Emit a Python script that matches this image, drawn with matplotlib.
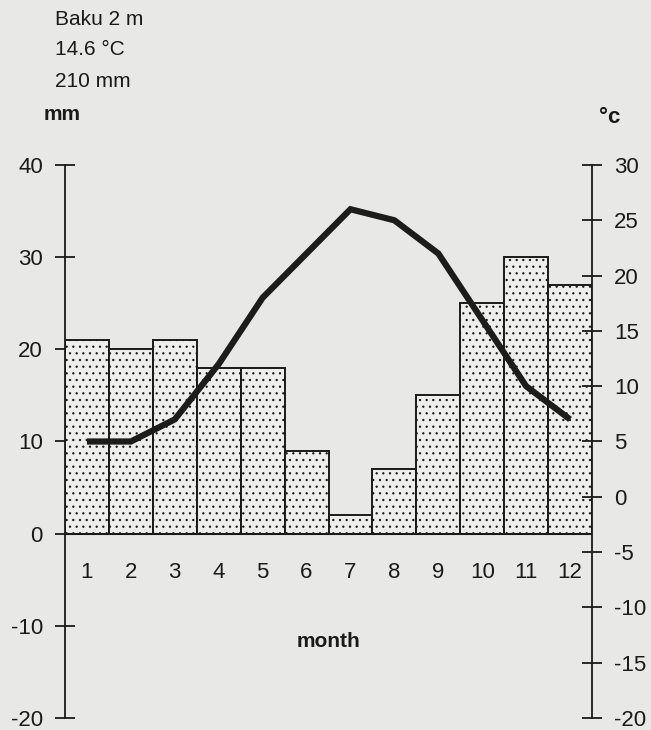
import matplotlib
matplotlib.use("Agg")
import matplotlib.pyplot as plt

months = [1, 2, 3, 4, 5, 6, 7, 8, 9, 10, 11, 12]
month_labels = ["1", "2", "3", "4", "5", "6", "7", "8", "9", "10", "11", "12"]
precip_mm = [21, 20, 21, 18, 18, 9, 2, 7, 15, 25, 30, 27]
temp_c = [5, 5, 7, 12, 18, 22, 26, 25, 22, 16, 10, 7]
left_ticks = [-20, -10, 0, 10, 20, 30, 40]
right_ticks = [-20, -15, -10, -5, 0, 5, 10, 15, 20, 25, 30]

DPI = 120
S = 100 / DPI  # convert "pt at 100 dpi" sizes to this dpi

plt.rcParams['font.family'] = ['Liberation Sans', 'DejaVu Sans']
plt.rcParams['axes.unicode_minus'] = False
plt.rcParams['hatch.linewidth'] = 0.7 * S
plt.rcParams['hatch.color'] = '#7a7a7a'

W, H = 651, 730
bg = '#e8e8e6'
ink = '#1a1a1a'
fig = plt.figure(figsize=(W / DPI, H / DPI), dpi=DPI, facecolor=bg)
ax = fig.add_axes([65/W, 1-718/H, (592-65)/W, (718-165)/H])
ax.set_facecolor('none')
ax.set_xlim(0.5, 12.5)
ax.set_ylim(-20, 40)

ax.bar(months, precip_mm, width=1.0, color='#eeeeec', edgecolor=ink,
       linewidth=1.4 * S, hatch='...', zorder=2)
ax.axhline(0, color=ink, lw=1.5 * S, zorder=3)

for s in ['top', 'bottom', 'right']:
    ax.spines[s].set_visible(False)
ax.spines['left'].set_linewidth(1.3 * S)
ax.spines['left'].set_color(ink)
ax.set_xticks([])
ax.set_yticks(left_ticks)
ax.tick_params(axis='y', direction='inout', length=14 * S, width=1.3 * S,
               labelsize=16 * S, colors=ink, pad=9 * S)

for m, lab in zip(months, month_labels):
    ax.text(m, -4.2, lab, ha='center', va='center', fontsize=16 * S, color=ink)
ax.text(6.5, -12.3, 'month', ha='center', va='baseline', fontsize=15 * S,
        fontweight='bold', color=ink)

ax2 = ax.twinx()
ax2.set_facecolor('none')
ax2.set_ylim(-20, 30)
for s in ['top', 'bottom', 'left']:
    ax2.spines[s].set_visible(False)
ax2.spines['right'].set_linewidth(1.3 * S)
ax2.spines['right'].set_color(ink)
ax2.set_yticks(right_ticks)
ax2.tick_params(axis='y', direction='inout', length=14 * S, width=1.3 * S,
                labelsize=16 * S, colors=ink, pad=9 * S)
ax2.plot(months, temp_c, color='#1c1c1c', lw=4.5 * S, solid_joinstyle='miter',
         solid_capstyle='butt', zorder=4)

fs_top = 15 * S
fig.text(55/W, 1-25/H, 'Baku 2 m', fontsize=fs_top, va='baseline', ha='left', color=ink)
fig.text(55/W, 1-55/H, '14.6 °C', fontsize=fs_top, va='baseline', ha='left', color=ink)
fig.text(55/W, 1-87/H, '210 mm', fontsize=fs_top, va='baseline', ha='left', color=ink)
fig.text(62/W, 1-120/H, 'mm', fontsize=15 * S, fontweight='bold', va='baseline', ha='center', color=ink)
fig.text(610/W, 1-123/H, '°c', fontsize=16 * S, fontweight='bold', va='baseline', ha='center', color=ink)

fig.savefig('out.png', dpi=DPI, facecolor=bg)
